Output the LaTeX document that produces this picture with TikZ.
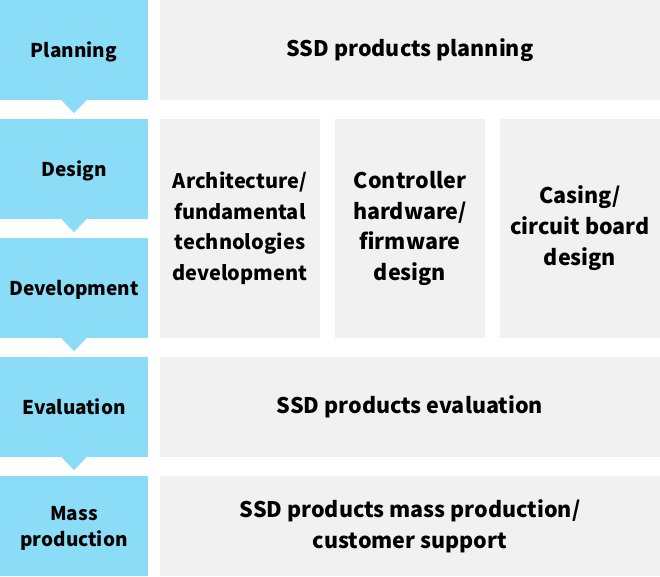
\documentclass[tikz,border=0pt]{standalone}
\usepackage{fontspec}
\setmainfont{Noto Sans CJK JP}
\usepackage{tikz}
\definecolor{stageblue}{HTML}{8BDDF7}
\definecolor{taskgrey}{HTML}{F1F1F1}
\tikzset{
  stage/.style={fill=stageblue, minimum width=148, minimum height=100, inner sep=0,
    text depth=0pt, align=center, font=\fontsize{19}{26}\selectfont\bfseries},
  task/.style={fill=taskgrey, minimum height=100, inner sep=0,
    align=center, font=\fontsize{21.5}{31}\selectfont\bfseries},
}

\begin{document}
\begin{tikzpicture}[x=1pt,y=-1pt]
\useasboundingbox (0,0) rectangle (660,576);
\node[stage] (plan) at (74,50) {Planning};
\node[stage] (des) at (74,169) {Design};
\node[stage] (dev) at (74,288) {Development};
\node[stage] (eval) at (74,407) {Evaluation};
\node[stage] (mass) at (74,526) {Mass\\production};
\foreach \s in {plan,des,dev,eval}
  \fill[stageblue] ([xshift=-12.5pt]\s.south) -- ([xshift=12.5pt]\s.south) -- ([yshift=-13pt]\s.south) -- cycle;
\node[task, minimum width=500] (planT) at (410,50) {SSD products planning};
\node[task, minimum width=160, minimum height=219, font=\fontsize{20}{30.5}\selectfont\bfseries] (arch) at (240,228.5) {Architecture/\\fundamental\\technologies\\development};
\node[task, minimum width=150, minimum height=219, font=\fontsize{21.5}{30.5}\selectfont\bfseries] (ctrl) at (410,228.5) {Controller\\hardware/\\firmware\\design};
\node[task, minimum width=160, minimum height=219] (case) at (580,228.5) {Casing/\\circuit board\\design};
\node[task, minimum width=500] (evalT) at (410,407) {SSD products evaluation};
\node[task, minimum width=500] (massT) at (410,526) {SSD products mass production/\\customer support};
\end{tikzpicture}
\end{document}
